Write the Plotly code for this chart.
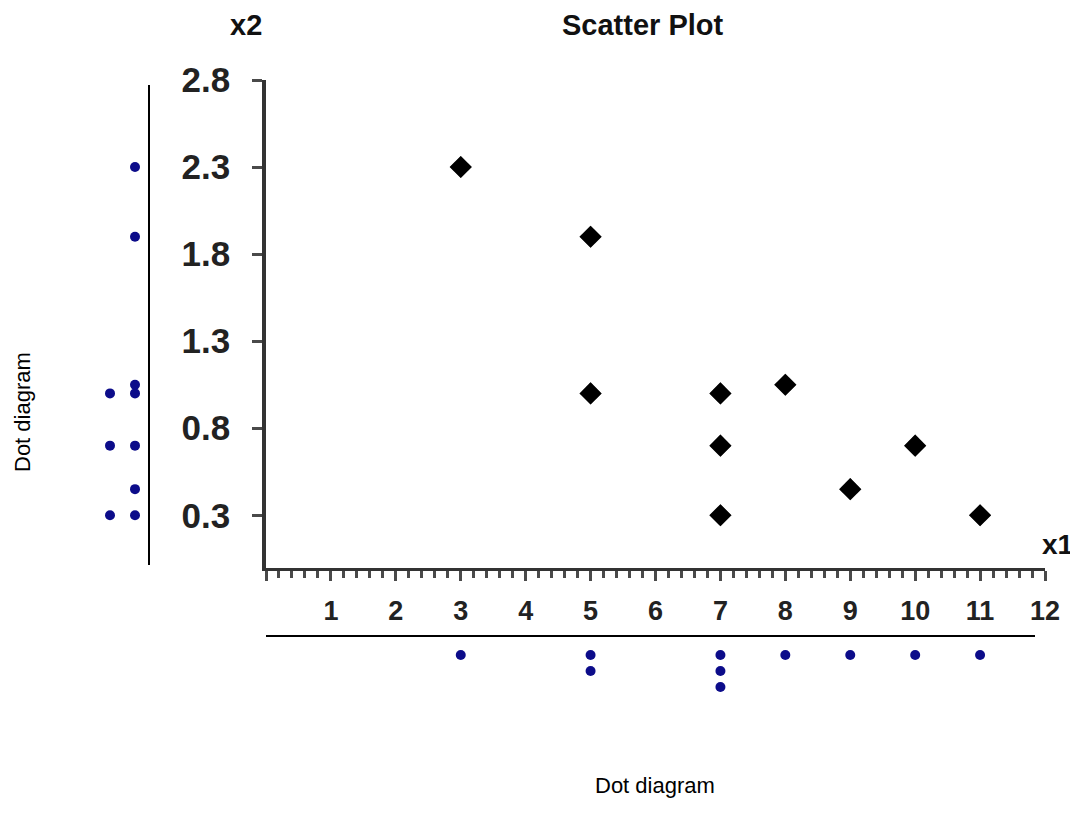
import plotly.graph_objects as go

# ---- data ----
x1 = [3, 5, 5, 7, 7, 7, 8, 9, 10, 11]
x2 = [2.3, 1.9, 1.0, 1.0, 0.7, 0.3, 1.05, 0.45, 0.7, 0.3]
x_ticks = list(range(0, 13))
x_ticktext = [""] + [str(i) for i in range(1, 13)]
y_ticks = [0.3, 0.8, 1.3, 1.8, 2.3, 2.8]
y_ticktext = ["0.3", "0.8", "1.3", "1.8", "2.3", "2.8"]

W, H = 1078, 827
OFF = 8.0  # page body margin
def fx(p):
    return (p - OFF) / W
def fy(p):
    return 1 - (p - OFF) / H

# stacking levels for dot diagrams
def stack_levels(vals):
    seen = {}
    out = []
    for v in vals:
        seen[v] = seen.get(v, 0) + 1
        out.append(seen[v])
    return out

lvl_x1 = stack_levels(x1)
lvl_x2 = stack_levels(x2)

# y scale: 2.8 at px 80, 0 at px 567.5
Y_TOP, Y_BOT = 80.0, 567.5
ppu = (Y_BOT - Y_TOP) / 2.8
def yval(p):
    return 2.8 - (p - Y_TOP) / ppu

FONT = "Arial, Liberation Sans, sans-serif"
NAVY = "#0c0c8a"
AX = "#333333"
TK = "#4a4a4a"

fig = go.Figure()

# base subplot (visible axes)
fig.add_trace(go.Scatter(x=[], y=[], mode="markers", xaxis="x", yaxis="y",
                         hoverinfo="skip", showlegend=False))
# shadow of scatter markers (shifted overlay axes)
fig.add_trace(go.Scatter(x=x1, y=x2, mode="markers", xaxis="x5", yaxis="y5",
                         marker=dict(symbol="diamond", size=17, color="#7a7a7a"),
                         hoverinfo="skip", showlegend=False))
# main scatter (overlay axes identical to main axes, drawn on top)
fig.add_trace(go.Scatter(x=x1, y=x2, mode="markers", xaxis="x6", yaxis="y6",
                         marker=dict(symbol="diamond", size=17, color="black"),
                         showlegend=False))
# bottom dot diagram
fig.add_trace(go.Scatter(x=x1, y=lvl_x1, mode="markers", xaxis="x2", yaxis="y2",
                         marker=dict(symbol="circle", size=10, color=NAVY),
                         showlegend=False))
# left dot diagram
fig.add_trace(go.Scatter(x=lvl_x2, y=x2, mode="markers", xaxis="x3", yaxis="y3",
                         marker=dict(symbol="circle", size=10, color=NAVY),
                         showlegend=False))

main_xdom = [fx(266), fx(1045)]
main_ydom = [fy(Y_BOT), fy(Y_TOP)]
yr = [0, 2.8]

def ann(text, x, y, size, bold=False, angle=0):
    return dict(text=("<b>%s</b>" % text) if bold else text, x=fx(x), y=fy(y),
                xref="paper", yref="paper", xanchor="center", yanchor="middle",
                showarrow=False, textangle=angle,
                font=dict(family=FONT, size=size, color="#111111" if bold else "black"))

hidden = dict(visible=False, automargin=False)

fig.update_layout(
    template="none",
    width=W, height=H,
    margin=dict(l=0, r=0, t=0, b=0),
    paper_bgcolor="white", plot_bgcolor="rgba(0,0,0,0)",
    showlegend=False,
    xaxis=dict(domain=main_xdom, range=[0, 12], anchor="y", automargin=False,
               showgrid=False, zeroline=False, showline=True, linecolor=AX, linewidth=3,
               tickmode="array", tickvals=x_ticks, ticktext=x_ticktext,
               ticks="outside", ticklen=10, tickwidth=3, tickcolor=TK,
               ticklabelstandoff=7,
               minor=dict(dtick=0.2, tick0=0, ticks="outside", ticklen=7, tickwidth=3,
                          tickcolor=TK, showgrid=False),
               tickfont=dict(family=FONT, size=27, color="#222222", weight="bold")),
    yaxis=dict(domain=main_ydom, range=yr, anchor="x", automargin=False,
               showgrid=False, zeroline=False, showline=True, linecolor=AX, linewidth=3.5,
               tickmode="array", tickvals=y_ticks, ticktext=y_ticktext,
               ticks="outside", ticklen=10, tickwidth=3, tickcolor=TK,
               ticklabelstandoff=15,
               tickfont=dict(family=FONT, size=35, color="#222222", weight="bold")),
    xaxis5=dict(domain=[fx(268), fx(1047)], range=[0, 12], anchor="y5", overlaying="x",
                **hidden),
    yaxis5=dict(domain=[fy(Y_BOT + 2), fy(Y_TOP + 2)], range=yr, anchor="x5",
                overlaying="y", **hidden),
    xaxis6=dict(domain=main_xdom, range=[0, 12], anchor="y6", overlaying="x", **hidden),
    yaxis6=dict(domain=main_ydom, range=yr, anchor="x6", overlaying="y", **hidden),
    xaxis2=dict(domain=[fx(266), fx(1035)], range=[0, 12 * (1035 - 266) / (1045 - 266)],
                anchor="y2", side="top", showline=True, linecolor="black", linewidth=1.5,
                showgrid=False, zeroline=False, showticklabels=False, ticks="",
                automargin=False),
    yaxis2=dict(domain=[fy(700), fy(637)], range=[3.8125, -0.125], anchor="x2", **hidden),
    xaxis3=dict(domain=[fx(90), fx(148)], range=[2.8, 0.48], anchor="y3", **hidden),
    yaxis3=dict(domain=[fy(565), fy(85)], range=[yval(565), yval(85)], anchor="x3",
                side="right", showline=True, linecolor="black", linewidth=1.5,
                showgrid=False, zeroline=False, showticklabels=False, ticks="",
                automargin=False),
    annotations=[
        ann("Scatter Plot", 643, 25, 29, bold=True),
        ann("x2", 246, 25, 29, bold=True),
        ann("x1", 1057, 544, 28, bold=True),
        ann("Dot diagram", 22, 412, 22, angle=-90),
        ann("Dot diagram", 655, 785, 22),
    ],
)

fig.write_html("out.html")
